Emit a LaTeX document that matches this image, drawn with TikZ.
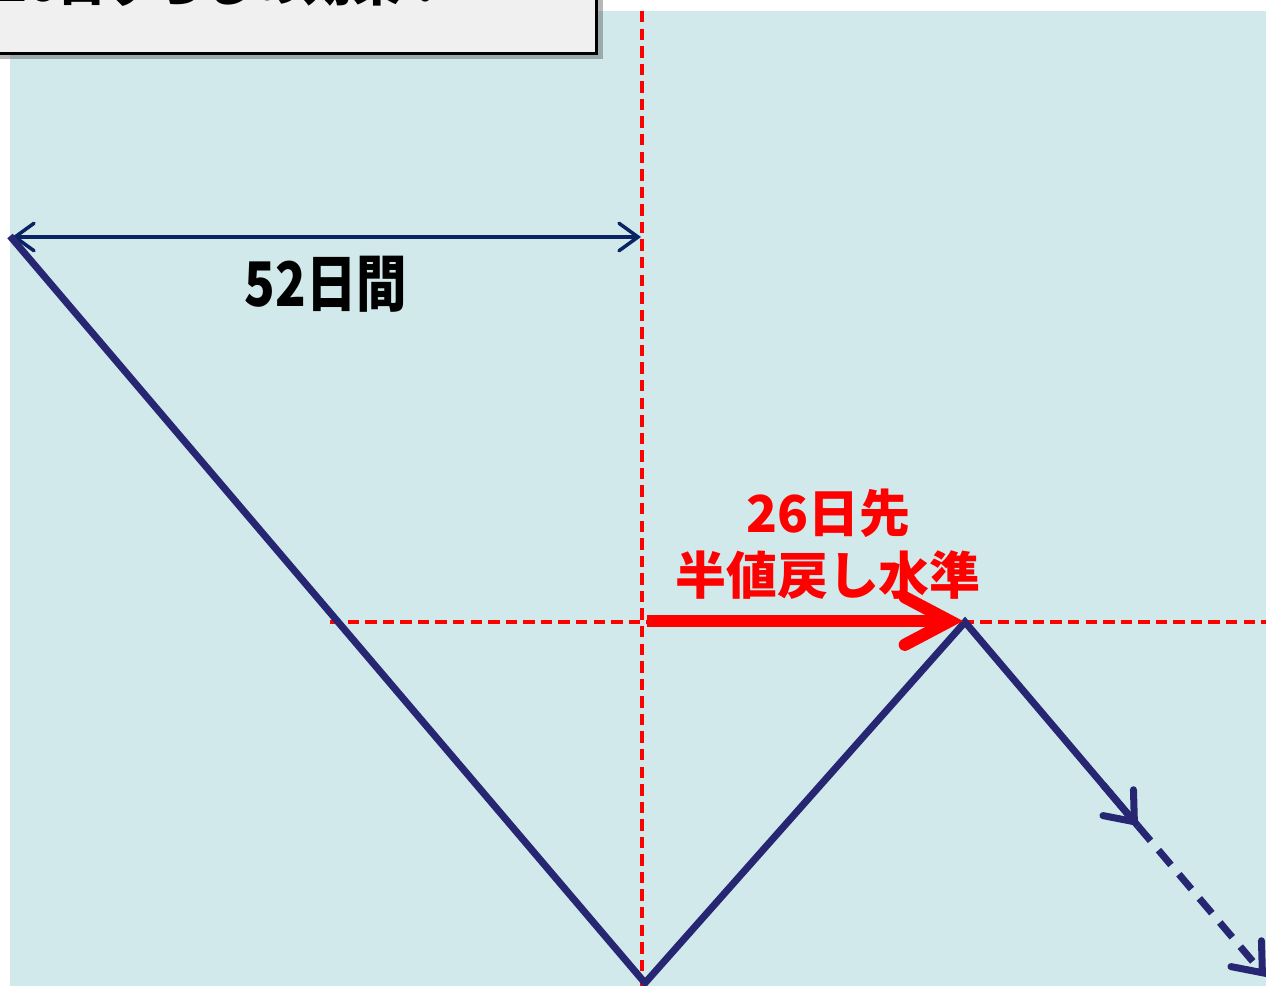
\documentclass[tikz,border=0pt]{standalone}
\usepackage{fontspec}
\newfontfamily\jp{Noto Sans CJK JP}
\usetikzlibrary{arrows.meta,shadows,calc}
\definecolor{bgblue}{HTML}{D1E9EA}
\definecolor{navy}{HTML}{262673}
\definecolor{dnavy}{HTML}{0A2463}
\definecolor{boxgray}{HTML}{F0F0F0}
\tikzset{
  pricepath/.style={draw=navy, line width=4pt, line join=miter},
  reddash/.style={draw=red, line width=2.1pt, dash pattern=on 6.5pt off 3.5pt},
  spanarrow/.style={draw=dnavy, line width=2pt, {Straight Barb[length=0.38cm,width=0.55cm,line cap=round]}-{Straight Barb[length=0.38cm,width=0.55cm,line cap=round]}},
  shiftarrow/.style={draw=red, line width=7pt, -{Straight Barb[length=0.9cm,width=0.95cm,line cap=round]}},
  blacklabel/.style={font=\jp\bfseries\fontsize{35}{38}\selectfont, text=black, inner sep=0pt},
  redlabel/.style={font=\jp\bfseries\fontsize{29}{32}\selectfont, text=red, inner sep=0pt},
}
\begin{document}
\begin{tikzpicture}[x=0.02cm,y=-0.02cm]
\useasboundingbox (0,0) rectangle (1266,985);
\clip (0,0) rectangle (1266,985);
\fill[white] (0,0) rectangle (1266,985);
\fill[bgblue] (10,11) rectangle (1266,990);
% title box
\node[draw=black, line width=1.8pt, fill=boxgray, minimum width=607*0.02cm, minimum height=120*0.02cm, anchor=south west, inner sep=0pt,
  drop shadow={shadow xshift=0.12cm, shadow yshift=-0.12cm, opacity=0.4, fill=black!70}] (title) at (-12,55) {};
\node[font=\jp\bfseries\fontsize{28}{32}\selectfont, anchor=south west, inner sep=0pt] (titletext) at (-3,7) {26日ずらしの効果？};
% coordinates
\coordinate (P0) at (10,236);
\coordinate (P1) at (645,983);
\coordinate (P2) at (965,622);
\coordinate (P3) at (1138,826);
\coordinate (P4) at (1266,977);
\coordinate (VT) at (642,11);
\coordinate (VB) at (642,990);
\coordinate (HL) at (330,622);
\coordinate (HR) at (1266,622);
\coordinate (SL) at (12,237);
\coordinate (SR) at (641,237);
\coordinate (RA) at (647,621);
\coordinate (RB) at (963,621);
% red dashed guides
\draw[reddash] (VT) -- (VB);
\draw[reddash] (HL) -- (HR);
% span arrow
\draw[spanarrow] (SL) -- (SR);
\node[blacklabel, xscale=0.82] (span) at (326,284) {52日間};
% price path
\draw[pricepath] (P0) -- (P1) -- (P2) -- (P3);
\draw[draw=navy, line width=4pt, -{Straight Barb[length=0.5cm,width=0.8cm,line cap=round]}] ($(P2)!0.8!(P3)$) -- (P3);
\draw[draw=navy, line width=4pt, dash pattern=on 11pt off 7pt, -{Straight Barb[length=0.5cm,width=0.8cm,line cap=round]}] (P3) -- (P4);
% red shift arrow
\draw[shiftarrow] (RA) -- (RB);
\node[redlabel] (lbl1) at (828,513) {26日先};
\node[redlabel] (lbl2) at (828,575) {半値戻し水準};
\end{tikzpicture}
\end{document}
